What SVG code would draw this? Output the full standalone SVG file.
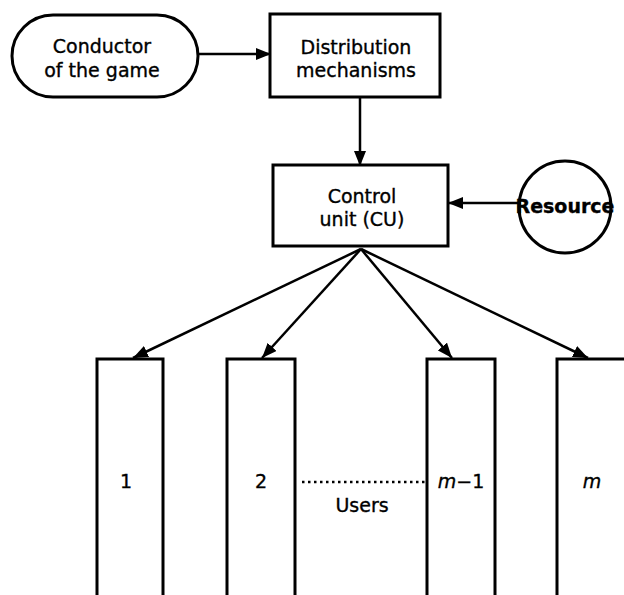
<svg xmlns="http://www.w3.org/2000/svg" width="624" height="595" viewBox="0 0 624 595">
  <defs>
    <marker id="arrow" viewBox="0 0 15 12" refX="15" refY="6" markerWidth="15" markerHeight="12" markerUnits="userSpaceOnUse" orient="auto">
      <path d="M0,0 L15,6 L0,12 Z" fill="#000"/>
    </marker>
    <style>
      .box { fill: #fff; stroke: #000; stroke-width: 3; }
      .edge { fill: none; stroke: #000; stroke-width: 2.5; }
      .lbl { font-family: "DejaVu Sans", "Liberation Sans", sans-serif; font-size: 19px; fill: #000; stroke: #000; stroke-width: 0.35; text-anchor: middle; }
      .it { font-style: italic; }
    </style>
  </defs>

  <!-- connectors -->
  <g id="connectors">
    <line class="edge" x1="198" y1="54" x2="271" y2="54" marker-end="url(#arrow)"/>
    <line class="edge" x1="360" y1="97" x2="360" y2="166" marker-end="url(#arrow)"/>
    <line class="edge" x1="518" y1="203" x2="448" y2="203" marker-end="url(#arrow)"/>
    <line class="edge" x1="361" y1="249" x2="133" y2="358" marker-end="url(#arrow)"/>
    <line class="edge" x1="361" y1="249" x2="262" y2="358" marker-end="url(#arrow)"/>
    <line class="edge" x1="361" y1="249" x2="452" y2="358" marker-end="url(#arrow)"/>
    <line class="edge" x1="361" y1="249" x2="588" y2="358" marker-end="url(#arrow)"/>
    <line x1="302" y1="482" x2="427" y2="482" stroke="#000" stroke-width="2.5" stroke-dasharray="2.5 3.5"/>
  </g>

  <g id="conductor">
    <rect class="box" x="12" y="15" width="186" height="82" rx="41" ry="41"/>
    <text class="lbl" x="102" y="53">Conductor</text>
    <text class="lbl" x="102" y="77">of the game</text>
  </g>

  <g id="distribution">
    <rect class="box" x="270" y="14" width="170" height="83"/>
    <text class="lbl" x="356" y="54">Distribution</text>
    <text class="lbl" x="356" y="77">mechanisms</text>
  </g>

  <g id="control-unit">
    <rect class="box" x="273" y="165" width="175" height="81"/>
    <text class="lbl" x="362" y="203">Control</text>
    <text class="lbl" x="362" y="226">unit (CU)</text>
  </g>

  <g id="resource">
    <circle class="box" cx="565" cy="207" r="46"/>
    <text class="lbl" x="565" y="213" font-size="16.5" font-weight="bold" stroke-width="0">Resource</text>
  </g>

  <g id="user-1">
    <rect class="box" x="97" y="359" width="66" height="250"/>
    <text class="lbl" x="126" y="488">1</text>
  </g>

  <g id="user-2">
    <rect class="box" x="227" y="359" width="68" height="250"/>
    <text class="lbl" x="261" y="488">2</text>
  </g>

  <g id="user-m-1">
    <rect class="box" x="427" y="359" width="68" height="250"/>
    <text class="lbl" x="461" y="488"><tspan class="it">m</tspan>−1</text>
  </g>

  <g id="user-m">
    <rect class="box" x="557" y="359" width="80" height="250"/>
    <text class="lbl it" x="592" y="488">m</text>
  </g>

  <g id="users-label">
    <text class="lbl" x="362" y="512">Users</text>
  </g>
</svg>
